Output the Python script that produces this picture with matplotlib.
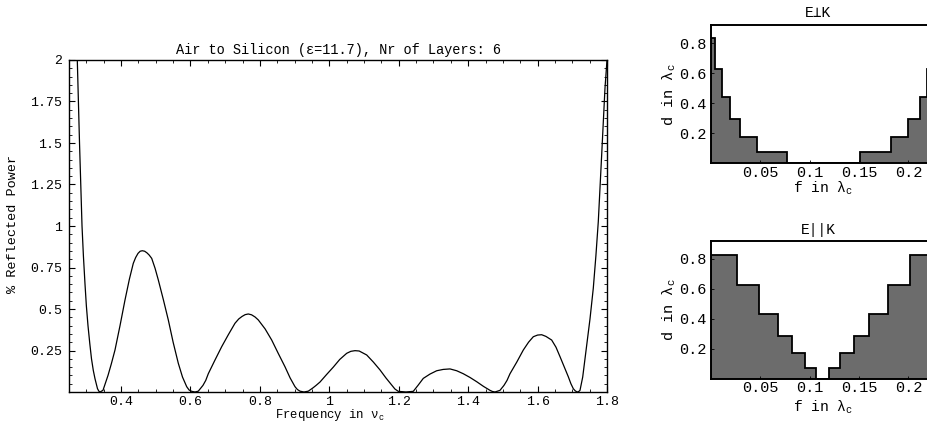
import matplotlib
matplotlib.use('Agg')
import matplotlib.pyplot as plt
from matplotlib.ticker import FixedLocator, MultipleLocator

plt.rcParams['font.family'] = ['Liberation Mono', 'DejaVu Sans Mono', 'DejaVu Sans']
plt.rcParams['mathtext.fontset'] = 'custom'
plt.rcParams['mathtext.rm'] = 'Liberation Mono'
plt.rcParams['mathtext.it'] = 'Liberation Mono'

# ---------------- data ----------------
# (frequency in nu_c, % reflected power) readings along the curve
curve_points = [
    (0.2716, 2.10), (0.2739, 2.00), (0.2770, 1.75), (0.2803, 1.50), (0.2840, 1.25),
    (0.2875, 1.00), (0.2915, 0.82), (0.2961, 0.65), (0.3000, 0.52), (0.3047, 0.40),
    (0.3100, 0.29), (0.3148, 0.20), (0.3200, 0.13), (0.3249, 0.08), (0.3290, 0.045),
    (0.3321, 0.020), (0.3360, 0.005), (0.3393, 0.000),
    # lobe 1
    (0.3479, 0.010), (0.3624, 0.100), (0.3720, 0.170), (0.3825, 0.253), (0.3970, 0.400),
    (0.4113, 0.554), (0.4240, 0.680), (0.4352, 0.775), (0.4420, 0.810), (0.4488, 0.835),
    (0.4550, 0.848), (0.4612, 0.851), (0.4680, 0.848), (0.4747, 0.838), (0.4810, 0.825),
    (0.4883, 0.805), (0.4980, 0.745), (0.5073, 0.675), (0.5220, 0.555), (0.5361, 0.434),
    (0.5500, 0.300), (0.5649, 0.173), (0.5770, 0.090), (0.5891, 0.032), (0.5960, 0.012),
    (0.6035, 0.004), (0.6130, 0.000), (0.6225, 0.005),
    # lobe 2
    (0.6360, 0.040), (0.6440, 0.070), (0.6513, 0.110), (0.6700, 0.190), (0.6899, 0.273),
    (0.7090, 0.345), (0.7282, 0.414), (0.7390, 0.440), (0.7484, 0.455), (0.7575, 0.466),
    (0.7666, 0.470), (0.7760, 0.465), (0.7860, 0.452), (0.7954, 0.434), (0.8150, 0.380),
    (0.8340, 0.313), (0.8530, 0.232), (0.8723, 0.152), (0.8870, 0.085), (0.9011, 0.032),
    (0.9080, 0.015), (0.9155, 0.005), (0.9270, 0.000), (0.9394, 0.005),
    # lobe 3
    (0.9530, 0.025), (0.9620, 0.040), (0.9731, 0.060), (0.9920, 0.105), (1.0115, 0.150),
    (1.0300, 0.196), (1.0500, 0.233), (1.0620, 0.245), (1.0740, 0.249), (1.0860, 0.247),
    (1.1077, 0.223), (1.1270, 0.180), (1.1460, 0.133), (1.1630, 0.085), (1.1797, 0.042),
    (1.1890, 0.018), (1.1987, 0.004), (1.2209, 0.000), (1.2419, 0.004),
    # lobe 4
    (1.2555, 0.040), (1.2707, 0.082), (1.2900, 0.108), (1.3093, 0.128), (1.3280, 0.136),
    (1.3477, 0.139), (1.3670, 0.128), (1.3860, 0.110), (1.4050, 0.088), (1.4246, 0.062),
    (1.4440, 0.034), (1.4629, 0.010), (1.4700, 0.003), (1.4773, 0.000), (1.4917, 0.010),
    # lobe 5
    (1.5032, 0.040), (1.5120, 0.070), (1.5205, 0.110), (1.5400, 0.180), (1.5589, 0.253),
    (1.5740, 0.300), (1.5877, 0.333), (1.6000, 0.343), (1.6118, 0.345), (1.6240, 0.335),
    (1.6406, 0.313), (1.6530, 0.270), (1.6646, 0.213), (1.6770, 0.150), (1.6885, 0.092),
    (1.6960, 0.050), (1.7029, 0.020), (1.7080, 0.008), (1.7136, 0.000), (1.7180, 0.002),
    # final rise
    (1.7222, 0.010), (1.7300, 0.090), (1.7415, 0.283), (1.7510, 0.440), (1.7605, 0.625),
    (1.7680, 0.820), (1.7749, 1.026), (1.7800, 1.230), (1.7847, 1.430), (1.7900, 1.650),
    (1.7942, 1.830), (1.8000, 2.000),
]

main_xticks = [0.4, 0.6, 0.8, 1.0, 1.2, 1.4, 1.6, 1.8]
main_xlabels = ['0.4', '0.6', '0.8', '1', '1.2', '1.4', '1.6', '1.8']
main_yticks = [0.25, 0.5, 0.75, 1.0, 1.25, 1.5, 1.75, 2.0]
main_ylabels = ['0.25', '0.5', '0.75', '1', '1.25', '1.5', '1.75', '2']

perp_edges = [0, 0.0044, 0.0112, 0.0189, 0.0297, 0.0467, 0.0771, 0.1514, 0.1826,
              0.1994, 0.2116, 0.2191, 0.2242, 0.227]
perp_heights = [0.833, 0.627, 0.444, 0.295, 0.173, 0.077, 0.0, 0.077, 0.173,
                0.295, 0.444, 0.627, 0.833]

par_edges = [0, 0.026, 0.0483, 0.0677, 0.0825, 0.0949, 0.1068, 0.1197, 0.1311,
             0.145, 0.1605, 0.1798, 0.2021, 0.227]
par_heights = [0.822, 0.622, 0.433, 0.282, 0.167, 0.067, 0.0, 0.067, 0.167,
               0.282, 0.433, 0.622, 0.822]

small_xticks = [0.05, 0.1, 0.15, 0.2]
small_xlabels = ['0.05', '0.1', '0.15', '0.2']
small_yticks = [0.2, 0.4, 0.6, 0.8]
small_ylabels = ['0.2', '0.4', '0.6', '0.8']

freq, power = zip(*sorted(curve_points))

# ---------------- figure ----------------
W, H = 928, 423
fig = plt.figure(figsize=(W / 100, H / 100), dpi=100)


def px_axes(left, top, right, bottom):
    return [left / W, 1 - bottom / H, (right - left) / W, (bottom - top) / H]


# main plot
ax = fig.add_axes(px_axes(69, 60, 607, 392))
ax.plot(freq, power, color='black', lw=0.9)
ax.set_xlim(0.25, 1.8)
ax.set_ylim(0, 2)
ax.xaxis.set_major_locator(FixedLocator(main_xticks))
ax.set_xticklabels(main_xlabels)
ax.yaxis.set_major_locator(FixedLocator(main_yticks))
ax.set_yticklabels(main_ylabels)
ax.xaxis.set_minor_locator(MultipleLocator(0.05))
ax.yaxis.set_minor_locator(MultipleLocator(0.05))
ax.tick_params(which='both', direction='in', top=True, right=True, labelsize=9.5)
ax.tick_params(which='major', length=4, width=0.8)
ax.tick_params(which='minor', length=2, width=0.6)
ax.tick_params(axis='x', which='major', pad=3)
ax.tick_params(axis='y', which='major', pad=5)
for s in ax.spines.values():
    s.set_linewidth(1.0)
ax.set_title('Air to Silicon (ε=11.7), Nr of Layers: 6', fontsize=9.8, pad=4)
fig.text(330 / W, 1 - 415 / H, 'Frequency in ν$_c$', ha='center', va='center', fontsize=8.8)
fig.text(13 / W, 1 - 224 / H, '% Reflected Power', rotation=90, ha='center', va='center',
         fontsize=9.7)


def small_panel(rect, edges, heights, ylim_top, title, title_y):
    a = fig.add_axes(rect)
    a.stairs(heights, edges, baseline=0, fill=True, facecolor='#6c6c6c', edgecolor='none')
    a.stairs(heights, edges, baseline=0, color='black', lw=1.3)
    a.set_xlim(0, 0.227)
    a.set_ylim(0, ylim_top)
    a.xaxis.set_major_locator(FixedLocator(small_xticks))
    a.set_xticklabels(small_xlabels)
    a.yaxis.set_major_locator(FixedLocator(small_yticks))
    a.set_yticklabels(small_ylabels)
    a.tick_params(which='both', direction='in', length=2.5, width=0.6, labelsize=11)
    a.tick_params(axis='x', pad=2)
    a.tick_params(axis='y', pad=3)
    for s in a.spines.values():
        s.set_linewidth(1.4)
    a.text(0.478, title_y, title, transform=a.transAxes, ha='center', va='center',
           fontsize=10.5)
    return a


ax1 = small_panel(px_axes(711, 25, 935, 163.3), perp_edges, perp_heights, 0.922, 'E⊥K', 1.09)
ax2 = small_panel(px_axes(711, 241, 935, 378.5), par_edges, par_heights, 0.917, 'E||K', 1.08)

fig.text(823 / W, 1 - 188 / H, 'f in λ$_c$', ha='center', va='center', fontsize=10.5)
fig.text(823 / W, 1 - 407 / H, 'f in λ$_c$', ha='center', va='center', fontsize=10.5)
fig.text(669 / W, 1 - 95 / H, 'd in λ$_c$', rotation=90, ha='center', va='center', fontsize=11)
fig.text(669 / W, 1 - 310 / H, 'd in λ$_c$', rotation=90, ha='center', va='center', fontsize=11)

fig.savefig('out.png', dpi=100)
